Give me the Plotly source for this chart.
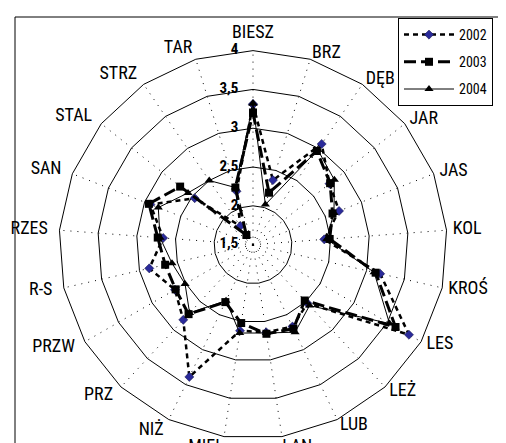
import plotly.graph_objects as go

categories = ["BIESZ", "BRZ", "DĘB", "JAR", "JAS", "KOL", "KROŚ", "LES", "LEŻ", "LUB",
              "ŁAN", "MIEL", "NIŻ", "PRZ", "PRZW", "R-S", "RZES", "SAN", "STAL", "STRZ", "TAR"]
years = ["2002", "2003", "2004"]
v2002 = [3.31, 2.37, 3.07, 2.76, 2.69, 2.42, 3.18, 3.82, 2.53, 2.67,
         2.64, 2.62, 3.39, 2.82, 2.66, 2.87, 2.66, 2.92, 2.46, 1.79, 2.22]
v2003 = [3.20, 2.20, 2.96, 2.77, 2.60, 2.49, 3.12, 3.62, 2.48, 2.70,
         2.66, 2.52, 2.32, 2.72, 2.65, 2.66, 2.73, 2.94, 2.70, 1.65, 2.27]
v2004 = [3.32, 2.04, 2.98, 2.84, 2.62, 2.45, 3.10, 3.53, 2.57, 2.75,
         2.65, 2.65, 2.30, 2.70, 2.51, 2.57, 2.70, 2.81, 2.57, 2.50, 2.27]
radial_ticks = [1.5, 2, 2.5, 3, 3.5, 4]
radial_ticktext = ["1,5", "2", "2,5", "3", "3,5", "4"]

FONT = "Roboto Condensed, DejaVu Sans Condensed, sans-serif"
R_MIN, R_MAX = 1.5, 4.0
R_LO, R_HI = 1.499, 4.155          # axis range, leaves room for the category labels
PX_PER_UNIT = 77.6
CX, CY = 245.0, 236.7              # centre in px from top-left
W, H = 506, 443
rad_px = (R_HI - R_LO) * PX_PER_UNIT

def closed(vals):
    return list(vals) + [vals[0]]

theta = closed(categories)
fig = go.Figure()

# dotted spokes, ending at the outer ring
sp_r, sp_t = [], []
for c in categories:
    sp_r += [R_MIN, R_MAX, None]
    sp_t += [c, c, None]
fig.add_trace(go.Scatterpolar(
    r=sp_r, theta=sp_t, mode="lines", connectgaps=False,
    line=dict(color="black", width=1, dash="1px,6px"),
    showlegend=False, hoverinfo="skip",
))

fig.add_trace(go.Scatterpolar(
    r=closed(v2002), theta=theta, name=years[0], mode="lines+markers", legendgroup="a",
    line=dict(color="black", width=2.5, dash="5px,4px"),
    marker=dict(symbol="diamond", size=7, color="#2a2a9a", line=dict(color="#101040", width=0.5)),
))
fig.add_trace(go.Scatterpolar(
    r=closed(v2003), theta=theta, name=years[1], mode="lines+markers", legendgroup="b",
    line=dict(color="black", width=3, dash="12px,5px"),
    marker=dict(symbol="square", size=8, color="black"),
))
fig.add_trace(go.Scatterpolar(
    r=closed(v2004), theta=theta, name=years[2], mode="lines+markers", legendgroup="c",
    line=dict(color="black", width=1),
    marker=dict(symbol="triangle-up", size=8, color="black"),
))

# category labels placed just outside the outer ring, Excel style
n = len(categories)
lab_r, lab_pos = [], []
for i in range(n):
    if i == 0:
        lab_r.append(R_MAX + 0.11); lab_pos.append("top center")
    elif i == 10:
        lab_r.append(R_MAX + 0.02); lab_pos.append("bottom right")
    elif i == 11:
        lab_r.append(R_MAX + 0.02); lab_pos.append("bottom left")
    elif i < 10:
        lab_r.append(R_MAX + 0.08); lab_pos.append("middle right")
    else:
        lab_r.append(R_MAX + 0.15); lab_pos.append("middle left")
fig.add_trace(go.Scatterpolar(
    r=lab_r, theta=categories, mode="text", text=categories, textposition=lab_pos,
    textfont=dict(family=FONT, size=18, color="black"),
    showlegend=False, hoverinfo="skip", cliponaxis=False,
))
# radial tick labels left of the top spoke
fig.add_trace(go.Scatterpolar(
    r=radial_ticks, theta=[categories[0]] * len(radial_ticks), mode="markers+text",
    text=[f"<b>{t}</b>" for t in radial_ticktext], textposition="middle left",
    marker=dict(size=22, color="rgba(0,0,0,0)"),
    textfont=dict(family=FONT, size=15, color="black"),
    showlegend=False, hoverinfo="skip", cliponaxis=False,
))

fig.update_layout(
    width=W, height=H,
    margin=dict(l=0, r=0, t=0, b=0, autoexpand=False),
    paper_bgcolor="white",
    plot_bgcolor="white",
    separators=", ",
    font=dict(family=FONT, size=15, color="black"),
    showlegend=True,
    legend=dict(
        x=390 / W, y=1 - 10 / H, xanchor="left", yanchor="top",
        bordercolor="black", borderwidth=1, bgcolor="white",
        traceorder="grouped", tracegroupgap=6,
        font=dict(family=FONT, size=14, color="black"),
        itemwidth=50,
    ),
    polar=dict(
        domain=dict(x=[(CX - rad_px) / W, (CX + rad_px) / W],
                    y=[(H - CY - rad_px) / H, (H - CY + rad_px) / H]),
        bgcolor="rgba(0,0,0,0)",
        gridshape="linear",
        radialaxis=dict(
            range=[R_LO, R_HI], tickvals=radial_ticks[1:], showticklabels=False,
            showline=False, ticks="", angle=90,
            gridcolor="black", gridwidth=1,
        ),
        angularaxis=dict(
            direction="clockwise", rotation=90,
            categoryorder="array", categoryarray=categories,
            showline=False, showgrid=False,
            ticks="", showticklabels=False,
        ),
    ),
    shapes=[
        dict(type="rect", xref="paper", yref="paper",
             x0=7 / W, x1=1.02, y0=-0.02, y1=1 - 9 / H,
             line=dict(color="black", width=1), fillcolor="rgba(0,0,0,0)", layer="below"),
    ],
)

fig.write_html("out.html")
